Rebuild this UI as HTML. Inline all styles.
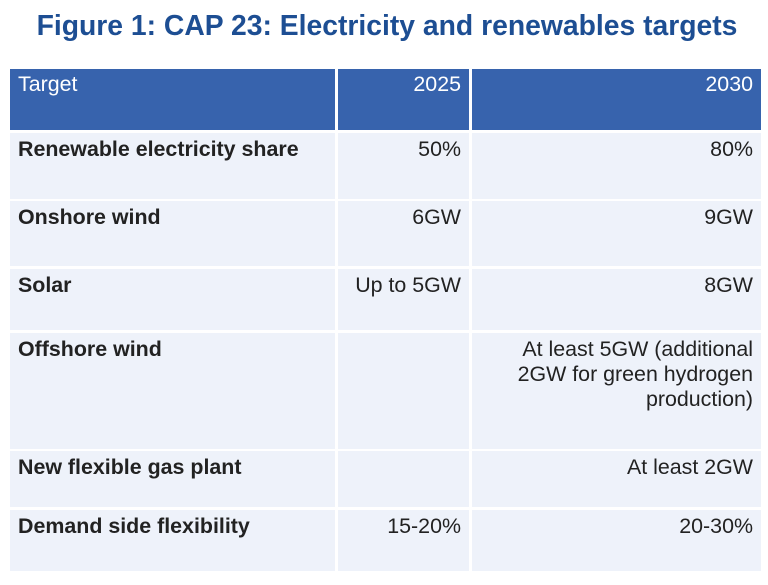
<!DOCTYPE html>
<html><head><style>
body{margin:0;width:768px;height:585px;background:#fff;font-family:"Liberation Sans",sans-serif;position:relative;overflow:hidden}
h1{position:absolute;top:9px;left:3px;width:768px;text-align:center;margin:0;font-size:28.3px;font-weight:bold;color:#1d4e93;white-space:nowrap}
.c{position:absolute;box-sizing:border-box;padding:4px 8px;font-size:21.4px;color:#222;background:#eef2fa;line-height:25px;white-space:nowrap}
.h{background:#3763ad;color:#fff;padding-top:3px}
.b{font-weight:bold}
.r{text-align:right}
</style></head><body>
<h1>Figure 1: CAP 23: Electricity and renewables targets</h1>
<div class="c h" style="left:10px;top:69px;width:325px;height:61px">Target</div>
<div class="c h r" style="left:338px;top:69px;width:131px;height:61px">2025</div>
<div class="c h r" style="left:472px;top:69px;width:289px;height:61px">2030</div>

<div class="c b" style="left:10px;top:133px;width:325px;height:66px">Renewable electricity share</div>
<div class="c r" style="left:338px;top:133px;width:131px;height:66px">50%</div>
<div class="c r" style="left:472px;top:133px;width:289px;height:66px">80%</div>

<div class="c b" style="left:10px;top:201px;width:325px;height:65px">Onshore wind</div>
<div class="c r" style="left:338px;top:201px;width:131px;height:65px">6GW</div>
<div class="c r" style="left:472px;top:201px;width:289px;height:65px">9GW</div>

<div class="c b" style="left:10px;top:269px;width:325px;height:61px">Solar</div>
<div class="c r" style="left:338px;top:269px;width:131px;height:61px">Up to 5GW</div>
<div class="c r" style="left:472px;top:269px;width:289px;height:61px">8GW</div>

<div class="c b" style="left:10px;top:333px;width:325px;height:116px">Offshore wind</div>
<div class="c r" style="left:338px;top:333px;width:131px;height:116px"></div>
<div class="c r" style="left:472px;top:333px;width:289px;height:116px">At least 5GW (additional<br>2GW for green hydrogen<br>production)</div>

<div class="c b" style="left:10px;top:451px;width:325px;height:56px">New flexible gas plant</div>
<div class="c r" style="left:338px;top:451px;width:131px;height:56px"></div>
<div class="c r" style="left:472px;top:451px;width:289px;height:56px">At least 2GW</div>

<div class="c b" style="left:10px;top:510px;width:325px;height:61px">Demand side flexibility</div>
<div class="c r" style="left:338px;top:510px;width:131px;height:61px">15-20%</div>
<div class="c r" style="left:472px;top:510px;width:289px;height:61px">20-30%</div>
</body></html>
